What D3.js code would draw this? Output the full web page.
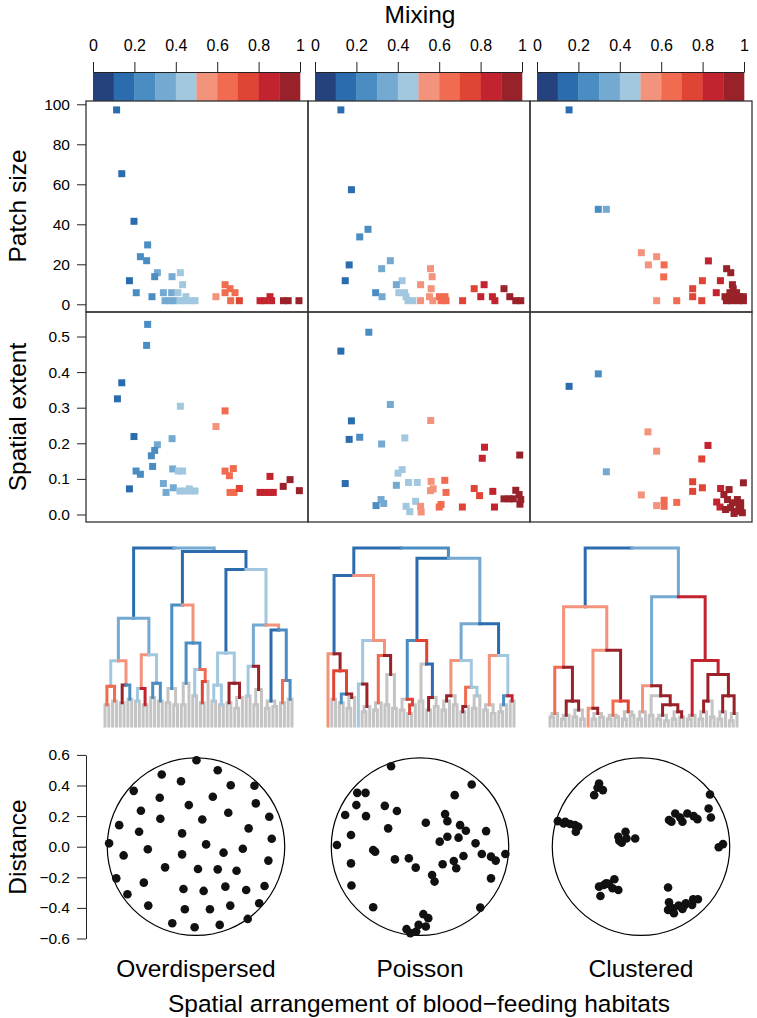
<!DOCTYPE html>
<html><head><meta charset="utf-8">
<script src="https://cdn.jsdelivr.net/npm/d3@7"></script>
<style>
body{margin:0;background:#fff}
text{font-family:"Liberation Sans",Arial,Helvetica,sans-serif;fill:#000}
</style>
</head><body>
<svg id="c" width="757" height="1018"></svg>
<script>
// ---------------- DATA ----------------
const binColors = ["#25427f","#2b6cae","#4a8dc3","#74a9d1","#a2c8e0","#f4937b","#f06b50","#e04434","#c3232f","#98212a"];
const mixTicks = [0,0.2,0.4,0.6,0.8,1];
const mixTickLabels = ["0","0.2","0.4","0.6","0.8","1"];
const patchTicks = [0,20,40,60,80,100];
const extentTicks = [0,0.1,0.2,0.3,0.4,0.5];
const extentTickLabels = ["0.0","0.1","0.2","0.3","0.4","0.5"];
const distTicks = [-0.6,-0.4,-0.2,0,0.2,0.4,0.6];
const distTickLabels = ["\u22120.6","\u22120.4","\u22120.2","0.0","0.2","0.4","0.6"];
const arrangements = ["Overdispersed","Poisson","Clustered"];

// [mixing, patch size]
const patchOver = [[0.114,97.2],[0.139,65.3],[0.198,41.5],[0.264,29.7],[0.229,23.8],[0.259,21.8],[0.311,15.8],[0.298,13.8],[0.382,13.8],[0.422,15.8],[0.176,11.8],[0.433,9.8],[0.209,5.8],[0.285,3.8],[0.34,5.8],[0.38,5.8],[0.41,5.8],[0.348,1.8],[0.372,1.8],[0.396,1.8],[0.42,1.8],[0.444,1.8],[0.469,1.8],[0.493,1.8],[0.449,3.8],[0.594,3.8],[0.638,9.8],[0.662,7.8],[0.686,5.8],[0.638,5.8],[0.665,1.8],[0.707,1.8],[0.855,3.8],[0.807,1.8],[0.831,1.8],[0.863,1.8],[0.92,1.8],[0.943,1.8],[0.995,1.8]];
const patchPoisson = [[0.125,97.2],[0.176,57.3],[0.256,37.5],[0.216,33.7],[0.364,21.8],[0.165,19.7],[0.322,17.8],[0.146,11.8],[0.421,11.8],[0.393,9.8],[0.293,5.8],[0.324,3.8],[0.405,5.8],[0.433,5.8],[0.44,3.8],[0.449,1.8],[0.473,1.8],[0.558,17.8],[0.566,13.8],[0.51,9.8],[0.561,7.8],[0.553,3.8],[0.51,1.8],[0.569,1.8],[0.601,3.8],[0.628,3.8],[0.609,1.8],[0.633,1.8],[0.713,1.8],[0.769,7.8],[0.817,9.8],[0.801,3.8],[0.857,3.8],[0.869,1.8],[0.913,7.8],[0.941,3.8],[0.97,1.8],[0.994,1.8]];
const patchClustered = [[0.155,97.2],[0.296,47.5],[0.335,47.5],[0.504,25.8],[0.578,23.8],[0.538,19.7],[0.614,19.7],[0.612,13.7],[0.578,1.8],[0.675,1.8],[0.752,7.8],[0.752,3.8],[0.796,1.8],[0.799,11.8],[0.828,21.7],[0.866,5.8],[0.886,11.8],[0.916,17.8],[0.936,15.8],[0.944,9.8],[0.948,7.8],[0.908,3.8],[0.932,3.8],[0.957,3.8],[0.981,3.8],[0.997,3.8],[0.915,1.8],[0.94,1.8],[0.972,1.8],[0.997,1.8],[0.932,5.8],[0.964,5.8]];

// [mixing, spatial extent]
const extentOver = [[0.264,0.534],[0.259,0.475],[0.139,0.37],[0.118,0.325],[0.422,0.304],[0.638,0.291],[0.594,0.247],[0.198,0.219],[0.382,0.213],[0.311,0.196],[0.298,0.18],[0.282,0.165],[0.288,0.135],[0.385,0.128],[0.412,0.122],[0.433,0.122],[0.208,0.122],[0.229,0.113],[0.176,0.072],[0.34,0.087],[0.353,0.062],[0.388,0.075],[0.42,0.066],[0.444,0.066],[0.469,0.066],[0.493,0.066],[0.465,0.072],[0.638,0.122],[0.678,0.129],[0.659,0.109],[0.662,0.062],[0.681,0.062],[0.707,0.073],[0.855,0.107],[0.952,0.098],[0.919,0.079],[0.997,0.067],[0.807,0.062],[0.831,0.062],[0.855,0.062],[0.871,0.062]];
const extentPoisson = [[0.26,0.512],[0.125,0.459],[0.364,0.309],[0.176,0.263],[0.559,0.264],[0.165,0.211],[0.216,0.217],[0.434,0.215],[0.322,0.198],[0.819,0.189],[0.808,0.158],[0.989,0.167],[0.421,0.126],[0.401,0.116],[0.146,0.087],[0.393,0.082],[0.452,0.09],[0.494,0.09],[0.561,0.093],[0.627,0.096],[0.558,0.067],[0.571,0.072],[0.633,0.062],[0.769,0.073],[0.795,0.053],[0.859,0.065],[0.913,0.044],[0.938,0.044],[0.97,0.068],[0.986,0.056],[0.994,0.042],[0.99,0.029],[0.958,0.044],[0.319,0.042],[0.332,0.031],[0.295,0.025],[0.44,0.023],[0.458,0.008],[0.486,0.037],[0.51,0.023],[0.513,0.007],[0.6,0.021],[0.609,0.028],[0.712,0.021],[0.867,0.021]];
const extentClustered = [[0.155,0.36],[0.296,0.395],[0.335,0.12],[0.536,0.232],[0.578,0.178],[0.826,0.194],[0.796,0.156],[0.504,0.055],[0.614,0.04],[0.614,0.023],[0.578,0.025],[0.675,0.034],[0.752,0.092],[0.752,0.065],[0.799,0.075],[0.997,0.089],[0.887,0.073],[0.928,0.07],[0.868,0.035],[0.884,0.021],[0.903,0.056],[0.92,0.042],[0.944,0.033],[0.968,0.042],[0.984,0.033],[0.911,0.014],[0.935,0.019],[0.959,0.009],[0.984,0.014],[0.952,0.003],[0.992,0.005],[0.976,0.023]];

// dendrograms: (left,right)height:colourBin ; leaf "x" (grey) or "x<bin>"
const treeOver = "(((((x,x)12:6,(x,x)14:6)22.3:4,((x,x)13:9,(x,x)15:2)23:5)36.7:3,(((x,x)14:4,(x,x)12:8)21:5,((x,x)16:2,(x,x)14:2)24:4)40:3)60.5:1,((((x,x)13:g,(x,x)12:g)21:2,(((x,x)12:g,x)24:2,((x,x)17:4,((x,x)13:7,x)25:6)31.7:2)46.6:5)68:1,((((x,x)14:4,(x,x)12:4)23:4,((x,x)13:9,((x,x)10:g,x)16:9)24:4)41:1,(((x,x)16.8:4,((x,x)12:g,x)20.5:9)33.5:3,(((x,x)10:g,(x,x)11:g)14:1,((x,x)13:6,(x,x)15:2)25.5:2)54:5)56.8:4)87.9:1)98:3)100:g";
const treePoisson = "(((x5,((x,x)15:7,((x,x)13:2,((x,x)10:g,x)16:9)18:7)31:9)40.6:1,((x4,((x,x)8:g,x)11:9)23.6:4,(((x,x)9:g,x)13:6,((x,x)12:g,(x,x)10:g)29:9)39.6:5)48.1:5)84.5:1,((((x,x)9:g,((x,x)7:7,x)12:7)15:2,((x,x)14:g,((x,x)9:9,(x,x)11:g)16:1)34.9:7)48.1:1,(((((x,x)9:g,x)14:9,(x,x)12:g)17:5,(((x,x)8:9,x)11:6,((x,x)10:g,x)17:4)21.7:4)36.8:3,(((x,x)9:g,(x,x)7:g)12:5,(((x,x)8:g,x)12:2,(x,x)14:8)17:4)39.6:1)57.5:3)94.3:2)100:g";
const treeClustered = "(((((x,x)5:g,x)7:6,(((x,x)4:g,x)6:9,((x,x)5:g,(x,x)4:g)9:9)14:9)33:5,((x5,((x,x)4:g,(x,x)5:g)7:9)10:5,(((x,x)4:g,(x,x)5:g)6:6,((x,x)4:g,(x,x)6:g)8:7)14:9)42.5:5)67:1,((((x,x)4:g,x)8:5,((x,x)6:g,(((x,x)4:g,(x,x)3:g)6:9,((x,x)4:g,(x,x)5:9)8:9)12:9)17:9)22.6:3,(((x,x)4:g,x)6:8,((((x,x)4:g,x)8:9,(x,x)5:g)14:9,(((x,x)4:g,x)8:9,((x,x)3:g,x)7:9)17:9)29:8)36.8:8)72.6:3)100:g";

// habitat positions [x, y] (distance units)
const pointsOver = [[0.003,0.565],[-0.224,0.472],[0.142,0.5],[-0.407,0.365],[-0.098,0.428],[0.227,0.402],[0.382,0.398],[-0.237,0.32],[0.11,0.326],[0.391,0.283],[-0.047,0.272],[-0.36,0.235],[0.211,0.222],[-0.502,0.141],[-0.233,0.183],[0.041,0.178],[0.479,0.196],[0.344,0.12],[-0.372,0.098],[-0.091,0.087],[0.495,0.052],[-0.568,0.022],[0.066,0.015],[-0.315,-0.017],[0.306,-0.013],[-0.473,-0.057],[-0.091,-0.05],[0.18,-0.039],[0.473,-0.091],[-0.202,-0.135],[0.013,-0.146],[0.142,-0.148],[0.265,-0.157],[-0.521,-0.207],[-0.341,-0.235],[-0.082,-0.276],[0.05,-0.289],[0.192,-0.261],[0.328,-0.283],[0.448,-0.257],[-0.448,-0.311],[-0.312,-0.385],[-0.073,-0.409],[0.091,-0.409],[0.224,-0.385],[0.413,-0.37],[0.338,-0.472],[-0.155,-0.5],[-0.009,-0.526],[0.155,-0.511]];
const pointsPoisson = [[-0.189,0.526],[0.338,0.407],[-0.41,0.352],[-0.356,0.352],[0.227,0.337],[-0.416,0.272],[-0.23,0.267],[-0.489,0.207],[-0.353,0.2],[-0.151,0.233],[0.164,0.213],[0.179,0.167],[0.038,0.157],[0.262,0.141],[-0.208,0.12],[0.432,0.102],[0.3,0.104],[0.179,0.065],[-0.451,0.076],[0.129,0.033],[0.252,0.059],[0.363,0.022],[-0.543,0.011],[-0.306,-0.022],[-0.293,-0.033],[0.558,-0.048],[0.404,-0.048],[0.464,-0.065],[0.495,-0.091],[0.284,-0.061],[-0.164,-0.083],[-0.073,-0.076],[-0.028,-0.137],[0.148,-0.115],[0.221,-0.093],[0.237,-0.141],[-0.451,-0.109],[0.079,-0.185],[0.095,-0.228],[-0.448,-0.254],[0.464,-0.207],[0.394,-0.398],[-0.306,-0.396],[0.022,-0.441],[0.054,-0.467],[-0.009,-0.511],[0.038,-0.522],[-0.025,-0.554],[-0.088,-0.539],[-0.063,-0.565]];
const pointsClustered = [[-0.306,0.337],[-0.274,0.413],[-0.284,0.385],[-0.249,0.37],[-0.543,0.167],[-0.495,0.163],[-0.464,0.148],[-0.432,0.141],[-0.41,0.13],[-0.426,0.098],[-0.505,0.152],[-0.148,0.065],[-0.101,0.098],[-0.126,0.026],[-0.095,0.054],[-0.038,0.054],[-0.142,0.039],[0.183,0.174],[0.224,0.217],[0.271,0.163],[0.303,0.217],[0.344,0.2],[0.369,0.18],[0.256,0.191],[0.199,0.163],[0.451,0.341],[0.442,0.25],[0.457,0.191],[0.508,-0.004],[0.536,0.017],[-0.274,-0.261],[-0.243,-0.25],[-0.211,-0.243],[-0.174,-0.213],[-0.186,-0.272],[-0.148,-0.283],[-0.265,-0.322],[-0.227,-0.239],[0.177,-0.267],[0.183,-0.363],[0.177,-0.413],[0.208,-0.402],[0.215,-0.435],[0.246,-0.385],[0.287,-0.38],[0.293,-0.37],[0.271,-0.407],[0.334,-0.38],[0.341,-0.343],[0.372,-0.343]];

const patchData = [patchOver, patchPoisson, patchClustered];
const extentData = [extentOver, extentPoisson, extentClustered];
const trees = [treeOver, treePoisson, treeClustered];
const pointSets = [pointsOver, pointsPoisson, pointsClustered];
const regionRadius = 0.58;

// ---------------- DRAW ----------------
const svg = d3.select("#c");
const colorOf = m => binColors[Math.min(9, Math.floor(m * 10))];
const grey = "#c4c4c4";

const panelLefts = [86, 308, 530], panelW = 222;
const rows = [[101, 312], [312, 522]];
const xMix = panelLefts.map(l => d3.scaleLinear().domain([0, 1]).range([l + 7, l + 214]));
const yPatch = d3.scaleLinear().domain([0, 100]).range([304.3, 104.3]);
const yExtent = d3.scaleLinear().domain([0, 0.5]).range([514.5, 336.5]);

svg.append("text").attr("x", 420).attr("y", 23).attr("text-anchor", "middle")
  .style("font-size", "24.5px").text("Mixing");

panelLefts.forEach((l, p) => {
  const xs = xMix[p];
  const g = svg.append("g");
  d3.range(10).forEach(i => {
    g.append("rect").attr("x", xs(i / 10)).attr("y", 72)
      .attr("width", xs((i + 1) / 10) - xs(i / 10) + 0.3).attr("height", 29)
      .attr("fill", binColors[i]);
  });
  const ax = svg.append("g").attr("transform", "translate(0,72)")
    .call(d3.axisTop(xs).tickValues(mixTicks).tickFormat((d, i) => mixTickLabels[i])
      .tickSize(10).tickSizeOuter(0).tickPadding(11));
  ax.selectAll("text").style("font-size", "16px").attr("fill", "#000");
  ax.selectAll("line,path").attr("stroke", "#222");
});

[patchData, extentData].forEach((dataSet, r) => {
  const ys = r === 0 ? yPatch : yExtent;
  panelLefts.forEach((l, p) => {
    const xs = xMix[p];
    svg.append("g").selectAll("rect").data(dataSet[p]).join("rect")
      .attr("x", d => xs(d[0]) - 3.5).attr("y", d => ys(d[1]) - 3.5)
      .attr("width", 7).attr("height", 7).attr("fill", d => colorOf(d[0]));
    svg.append("rect").attr("x", l).attr("y", rows[r][0]).attr("width", panelW)
      .attr("height", rows[r][1] - rows[r][0]).attr("fill", "none")
      .attr("stroke", "#333").attr("stroke-width", 1.3);
  });
});

const ay1 = svg.append("g").attr("transform", "translate(86,0)")
  .call(d3.axisLeft(yPatch).tickValues(patchTicks).tickSize(9).tickSizeOuter(0).tickPadding(7));
const ay2 = svg.append("g").attr("transform", "translate(86,0)")
  .call(d3.axisLeft(yExtent).tickValues(extentTicks).tickFormat((d, i) => extentTickLabels[i])
    .tickSize(9).tickSizeOuter(0).tickPadding(7));
[ay1, ay2].forEach(a => {
  a.select(".domain").remove();
  a.selectAll("text").style("font-size", "15.5px").attr("fill", "#000");
  a.selectAll("line").attr("stroke", "#222");
});

function yLabel(txt, cy) {
  svg.append("text").attr("transform", `translate(26,${cy}) rotate(-90)`)
    .attr("text-anchor", "middle").style("font-size", "24.5px").text(txt);
}
yLabel("Patch size", 206);
yLabel("Spatial extent", 417);

function parseTree(s) {
  let i = 0;
  function node() {
    if (i >= s.length) throw new Error("bad tree");
    if (s[i] === "(") {
      i++;
      const a = node(); i++;
      const b = node(); i++;
      let num = ""; while (i < s.length && s[i] !== ":") num += s[i++];
      i++;
      let c = ""; while (i < s.length && s[i] !== "," && s[i] !== ")") c += s[i++];
      return { h: +num, c: c, children: [a, b] };
    }
    i++;
    let c = ""; while (i < s.length && s[i] !== "," && s[i] !== ")") c += s[i++];
    return { h: 0, c: c || "g" };
  }
  return node();
}
const dendroX = [[105, 292], [328, 514], [550, 737]];
const yH = d3.scaleLinear().domain([0, 100]).range([726, 548]);
trees.forEach((t, p) => {
  const root = d3.hierarchy(parseTree(t));
  const leaves = root.leaves();
  const xs = d3.scaleLinear().domain([0, leaves.length - 1]).range(dendroX[p]);
  leaves.forEach((l, i) => l.xi = i);
  root.eachAfter(n => { if (n.children) n.xi = d3.mean(n.children, c => c.xi); });
  const edges = root.descendants().filter(n => n.parent);
  edges.sort((a, b) => (a.data.c === "g" ? 0 : 1) - (b.data.c === "g" ? 0 : 1));
  svg.append("g").selectAll("path").data(edges).join("path")
    .attr("d", n => `M${xs(n.parent.xi)},${yH(n.parent.data.h)}H${xs(n.xi)}V${yH(n.data.h)}`)
    .attr("fill", "none")
    .attr("stroke", n => n.data.c === "g" ? grey : binColors[+n.data.c])
    .attr("stroke-width", 3).attr("stroke-linecap", "square");
});

const centers = [196, 420, 641];
const yDist = d3.scaleLinear().domain([-0.6, 0.6]).range([938.5, 754.9]);
const pxPerUnit = yDist(0) - yDist(1);
pointSets.forEach((pts, p) => {
  const xs = d3.scaleLinear().domain([-1, 1]).range([centers[p] - pxPerUnit, centers[p] + pxPerUnit]);
  svg.append("ellipse").attr("cx", xs(0)).attr("cy", yDist(0))
    .attr("rx", xs(regionRadius) - xs(0)).attr("ry", yDist(0) - yDist(regionRadius))
    .attr("fill", "none").attr("stroke", "#000").attr("stroke-width", 1.2);
  svg.append("g").selectAll("circle").data(pts).join("circle")
    .attr("cx", d => xs(d[0])).attr("cy", d => yDist(d[1])).attr("r", 4.3).attr("fill", "#111");
  svg.append("text").attr("x", centers[p]).attr("y", 977).attr("text-anchor", "middle")
    .style("font-size", "24.5px").text(arrangements[p]);
});
const ad = svg.append("g").attr("transform", "translate(86,0)")
  .call(d3.axisLeft(yDist).tickValues(distTicks).tickFormat((d, i) => distTickLabels[i])
    .tickSize(9).tickSizeOuter(0).tickPadding(7));
ad.selectAll("text").style("font-size", "15.5px").attr("fill", "#000");
ad.selectAll("line,path").attr("stroke", "#222");
yLabel("Distance", 847);

svg.append("text").attr("x", 419).attr("y", 1012).attr("text-anchor", "middle")
  .style("font-size", "24.5px").text("Spatial arrangement of blood\u2212feeding habitats");
</script>
</body></html>
